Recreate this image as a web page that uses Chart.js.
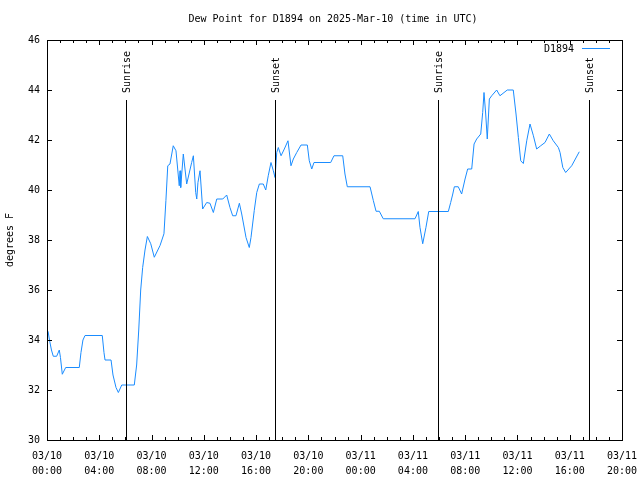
<!DOCTYPE html>
<html>
<head>
<meta charset="utf-8">
<script src="https://cdn.jsdelivr.net/npm/chart.js@4.4.1/dist/chart.umd.min.js"></script>
<style>
  html, body { margin: 0; padding: 0; background: #fff; }
  #wrap { width: 640px; height: 480px; }
</style>
</head>
<body>
<div id="wrap"><canvas id="c" width="640" height="480"></canvas></div>
<script>
// hours since 2025-03-10 00:00 UTC
const hours = [0.08,0.19,0.34,0.48,0.74,0.94,1.03,1.17,1.43,2.47,2.60,2.75,2.91,4.23,4.36,4.44,4.90,5.05,5.28,5.46,5.72,6.68,6.86,7.02,7.17,7.32,7.50,7.68,7.94,8.21,8.65,8.95,9.10,9.24,9.41,9.66,9.87,10.12,10.18,10.23,10.43,10.69,11.07,11.20,11.38,11.46,11.55,11.71,11.91,12.22,12.47,12.73,12.99,13.45,13.75,14.00,14.21,14.46,14.72,14.90,15.23,15.48,15.61,15.86,16.05,16.25,16.55,16.74,16.93,17.14,17.32,17.45,17.58,17.70,17.91,18.16,18.44,18.67,18.85,19.11,19.44,19.92,20.07,20.26,20.43,21.71,21.96,22.63,22.80,22.98,24.72,24.97,25.18,25.43,25.73,28.16,28.41,28.54,28.75,29.00,29.21,30.71,30.89,31.05,31.17,31.47,31.73,31.99,32.19,32.50,32.68,32.88,33.19,33.34,33.44,33.57,33.69,33.85,34.03,34.41,34.66,35.22,35.68,35.89,36.07,36.25,36.45,36.71,36.96,37.22,37.47,37.78,38.11,38.44,38.74,39.13,39.26,39.47,39.69,40.15,40.73];
const dewPoint = [34.35,34.0,33.6,33.35,33.35,33.6,33.3,32.63,32.9,32.9,33.5,34.0,34.18,34.18,33.5,33.2,33.2,32.6,32.1,31.9,32.2,32.2,33.0,34.4,36.0,36.9,37.6,38.14,37.85,37.31,37.78,38.25,39.58,40.97,41.04,41.77,41.57,40.17,40.77,40.1,41.44,40.24,41.1,41.37,39.9,39.64,40.3,40.77,39.24,39.5,39.47,39.1,39.64,39.64,39.8,39.3,38.97,38.97,39.47,39.04,38.1,37.7,38.1,39.18,39.9,40.24,40.24,40.0,40.57,41.1,40.77,40.5,41.5,41.7,41.37,41.64,41.97,40.97,41.24,41.5,41.8,41.8,41.17,40.84,41.1,41.1,41.37,41.37,40.64,40.13,40.13,39.58,39.15,39.15,38.85,38.85,39.14,38.51,37.85,38.51,39.14,39.14,39.5,39.84,40.13,40.13,39.84,40.44,40.84,40.84,41.84,42.04,42.24,43.1,43.9,43.04,42.04,43.64,43.77,44.0,43.77,44.0,44.0,43.04,42.1,41.17,41.06,41.97,42.64,42.17,41.64,41.77,41.9,42.24,41.97,41.7,41.5,40.9,40.7,40.97,41.53];
const sunEventHours = [6.02, 17.45, 29.92, 41.48];
const sunEventLabels = ["Sunrise", "Sunset", "Sunrise", "Sunset"];
const xTickDates = ["03/10","03/10","03/10","03/10","03/10","03/10","03/11","03/11","03/11","03/11","03/11","03/11"];
const xTickTimes = ["00:00","04:00","08:00","12:00","16:00","20:00","00:00","04:00","08:00","12:00","16:00","20:00"];
const seriesName = "D1894";
const titleText = "Dew Point for D1894 on 2025-Mar-10 (time in UTC)";
const yTitle = "degrees F";

const FONT = "DejaVu Sans Mono";
const LINE_COLOR = "#1a8cff";

const decor = {
  id: 'decor',
  afterDraw(chart) {
    const ctx = chart.ctx;
    const a = chart.chartArea;
    const xs = chart.scales.x, ys = chart.scales.y;
    ctx.save();
    ctx.strokeStyle = '#000';
    ctx.lineWidth = 1;
    // frame
    ctx.strokeRect(Math.round(a.left) + 0.5, Math.round(a.top) + 0.5, Math.round(a.right - a.left), Math.round(a.bottom - a.top));
    ctx.beginPath();
    // x ticks every hour, top and bottom
    for (let h = 1; h < 44; h++) {
      const px = Math.round(xs.getPixelForValue(h)) + 0.5;
      const len = (h % 4 === 0) ? 5 : 3;
      ctx.moveTo(px, a.bottom); ctx.lineTo(px, a.bottom - len);
      ctx.moveTo(px, a.top); ctx.lineTo(px, a.top + len);
    }
    // y ticks
    for (let v = 32; v < 46; v += 2) {
      const py = Math.round(ys.getPixelForValue(v)) + 0.5;
      ctx.moveTo(a.left, py); ctx.lineTo(a.left + 5, py);
      ctx.moveTo(a.right, py); ctx.lineTo(a.right - 5, py);
    }
    ctx.stroke();
    // sunrise / sunset lines
    ctx.font = '10px "' + FONT + '"';
    ctx.fillStyle = '#000';
    sunEventHours.forEach((h, i) => {
      const px = Math.round(xs.getPixelForValue(h)) + 0.5;
      ctx.beginPath();
      ctx.moveTo(px, 100); ctx.lineTo(px, a.bottom);
      ctx.stroke();
      ctx.save();
      ctx.translate(px + 1, 93);
      ctx.rotate(-Math.PI / 2);
      ctx.textAlign = 'left';
      ctx.textBaseline = 'middle';
      ctx.fillText(sunEventLabels[i], 0, 0);
      ctx.restore();
    });
    // legend
    ctx.textAlign = 'right';
    ctx.textBaseline = 'middle';
    ctx.fillText(seriesName, 574, 49);
    ctx.strokeStyle = LINE_COLOR;
    ctx.beginPath();
    ctx.moveTo(582, 48.5); ctx.lineTo(610, 48.5);
    ctx.stroke();
    // title
    ctx.fillStyle = '#000';
    ctx.textAlign = 'center';
    ctx.fillText(titleText, 333, 19);
    // y title
    ctx.save();
    ctx.translate(10, 240);
    ctx.rotate(-Math.PI / 2);
    ctx.textAlign = 'center';
    ctx.textBaseline = 'middle';
    ctx.fillText(yTitle, 0, 0);
    ctx.restore();
    ctx.restore();
  }
};

new Chart(document.getElementById('c'), {
  type: 'line',
  data: {
    datasets: [{
      label: seriesName,
      data: hours.map((h, i) => ({ x: h, y: dewPoint[i] })),
      borderColor: LINE_COLOR,
      borderWidth: 1,
      pointRadius: 0,
      tension: 0,
      fill: false
    }]
  },
  options: {
    responsive: false,
    animation: false,
    devicePixelRatio: 1,
    layout: { padding: { top: 40, right: 18, left: 0, bottom: 0 } },
    plugins: { legend: { display: false }, title: { display: false }, tooltip: { enabled: false } },
    scales: {
      x: {
        type: 'linear', min: 0, max: 44,
        grid: { display: false, drawTicks: false },
        border: { display: false },
        ticks: {
          stepSize: 4, autoSkip: false, maxRotation: 0, minRotation: 0,
          color: '#000', padding: 9,
          font: { family: FONT, size: 10, lineHeight: 1.5 },
          callback: (v) => { const i = Math.round(v / 4); return [xTickDates[i], xTickTimes[i]]; }
        },
        afterFit(s) { s.height = 40; s.paddingLeft = 0; s.paddingRight = 0; }
      },
      y: {
        min: 30, max: 46,
        grid: { display: false, drawTicks: false },
        border: { display: false },
        ticks: { stepSize: 2, color: '#000', padding: 7, font: { family: FONT, size: 10 } },
        afterFit(s) { s.width = 47; s.paddingTop = 0; s.paddingBottom = 0; }
      }
    }
  },
  plugins: [decor]
});
</script>
</body>
</html>
